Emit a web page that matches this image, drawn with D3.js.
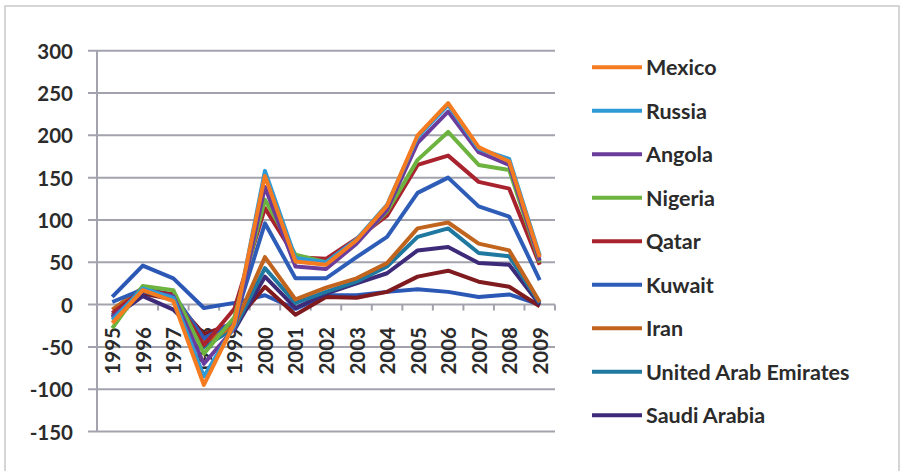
<!DOCTYPE html>
<html>
<head>
<meta charset="utf-8">
<script src="https://cdn.jsdelivr.net/npm/d3@7"></script>
<style>
  body { margin: 0; background: #fff; }
  text { font-family: Lato, "Open Sans", sans-serif; font-weight: bold; fill: #2b2b2b; }
</style>
</head>
<body>
<svg id="chart" width="904" height="471"></svg>
<script>
var years = ["1995","1996","1997","1998","1999","2000","2001","2002","2003","2004","2005","2006","2007","2008","2009"];
var yTicks = [300, 250, 200, 150, 100, 50, 0, -50, -100, -150];

// series as they appear in the legend (top line first)
var names = ["Mexico", "Russia", "Angola", "Nigeria", "Qatar", "Kuwait", "Iran", "United Arab Emirates", "Saudi Arabia", "", ""];
var colors = ["#f47b20", "#2e9ad6", "#6a3c9c", "#6db33f", "#a8232e", "#2e5db8", "#c0641e", "#1f78a0", "#3d2a78", "#7f1a1f", "#2b57b5"];

var mexico  = [-22, 17, 4, -95, -22, 152, 51, 47, 76, 117, 200, 238, 186, 169, 56];
var russia  = [-18, 19, 8, -85, -25, 158, 55, 50, 77, 118, 198, 236, 184, 172, 58];
var angola  = [-15, 16, 10, -70, -28, 139, 45, 42, 72, 112, 191, 228, 180, 165, 52];
var nigeria = [-28, 22, 17, -58, -15, 124, 59, 50, 74, 110, 171, 204, 165, 159, 50];
var qatar   = [-10, 17, 12, -48, -5, 114, 56, 54, 78, 105, 165, 176, 145, 137, 47];
var kuwait  = [3, 18, 12, -40, -20, 96, 31, 31, 56, 80, 132, 150, 116, 104, 29];
var iran    = [-6, 20, 10, -45, -25, 56, 6, 20, 31, 49, 90, 97, 72, 64, 3];
var uae     = [-12, 16, 6, -50, -28, 43, 2, 15, 27, 45, 80, 90, 61, 57, 2];
var saudi   = [-16, 10, -6, -42, -30, 33, -4, 13, 25, 37, 64, 68, 49, 47, 0];
var other1  = [-14, 13, 6, -35, -22, 21, -12, 9, 8, 15, 33, 40, 27, 21, -2];
var other2  = [9, 46, 31, -4, 2, 11, -5, 11, 11, 15, 18, 15, 9, 12, 0];

var values = [mexico, russia, angola, nigeria, qatar, kuwait, iran, uae, saudi, other1, other2];

var svg = d3.select("#chart");

// outer frame
svg.append("rect")
    .attr("x", 5).attr("y", 6)
    .attr("width", 894).attr("height", 480)
    .attr("fill", "none")
    .attr("stroke", "#c9c9c9")
    .attr("stroke-width", 1.5);

var x = d3.scaleBand().domain(years).range([97, 555]);
var y = d3.scaleLinear().domain([-150, 300]).range([431.5, 50.7]);

var gridColor = "#a3a3ae";

// gridlines
svg.selectAll(".grid")
    .data(yTicks)
    .enter()
    .append("line")
    .attr("x1", 88).attr("x2", 555)
    .attr("y1", function (d) { return y(d); })
    .attr("y2", function (d) { return y(d); })
    .attr("stroke", gridColor)
    .attr("stroke-width", 2);

// value axis line
svg.append("line")
    .attr("x1", 97).attr("x2", 97)
    .attr("y1", y(300)).attr("y2", y(-150))
    .attr("stroke", gridColor)
    .attr("stroke-width", 2);

// y labels
svg.selectAll(".ylab")
    .data(yTicks)
    .enter()
    .append("text")
    .attr("x", 73)
    .attr("y", function (d) { return y(d); })
    .attr("text-anchor", "end")
    .attr("dominant-baseline", "central")
    .style("font-size", "20.5px")
    .text(function (d) { return d; });

// category ticks on the zero line
svg.selectAll(".xtick")
    .data(years)
    .enter()
    .append("line")
    .attr("x1", function (d) { return x(d) + x.bandwidth(); })
    .attr("x2", function (d) { return x(d) + x.bandwidth(); })
    .attr("y1", y(0)).attr("y2", y(0) + 6)
    .attr("stroke", gridColor)
    .attr("stroke-width", 2);

// year labels, rotated
svg.selectAll(".xlab")
    .data(years)
    .enter()
    .append("text")
    .attr("transform", function (d) {
        return "translate(" + (x(d) + x.bandwidth() / 2) + "," + 327 + ") rotate(-90)";
    })
    .attr("text-anchor", "end")
    .attr("dominant-baseline", "central")
    .style("font-size", "20.5px")
    .text(function (d) { return d; });

var line = d3.line()
    .x(function (d, i) { return x(years[i]) + x.bandwidth() / 2; })
    .y(function (d) { return y(d); });

// draw bottom series first so Mexico ends up on top
var order = d3.range(values.length).reverse();
svg.selectAll(".series")
    .data(order)
    .enter()
    .append("path")
    .attr("d", function (k) { return line(values[k]); })
    .attr("fill", "none")
    .attr("stroke", function (k) { return colors[k]; })
    .attr("stroke-width", 4)
    .attr("stroke-linejoin", "round");

// legend (only the first nine fit)
var legendNames = names.slice(0, 9);
var leg = svg.selectAll(".leg")
    .data(legendNames)
    .enter()
    .append("g")
    .attr("transform", function (d, i) { return "translate(592," + (67.3 + i * 43.5) + ")"; });

leg.append("line")
    .attr("x1", 0).attr("x2", 50)
    .attr("stroke", function (d, i) { return colors[i]; })
    .attr("stroke-width", 4);

leg.append("text")
    .attr("x", 54)
    .attr("dominant-baseline", "central")
    .style("font-size", "21.5px")
    .text(function (d) { return d; });
</script>
</body>
</html>
